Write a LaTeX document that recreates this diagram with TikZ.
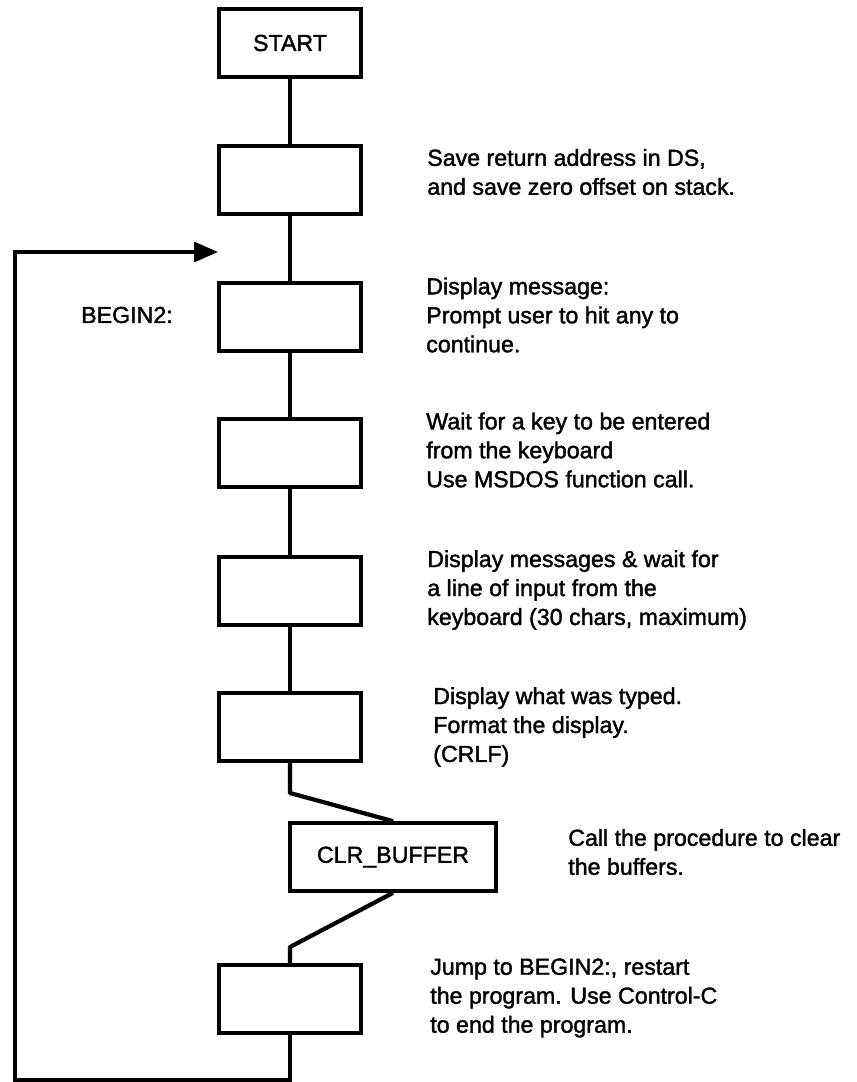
\documentclass[tikz,border=0pt]{standalone}
\usepackage{fontspec}
\setmainfont{Liberation Sans}[AutoFakeBold=1.6]
\usetikzlibrary{positioning,arrows.meta}

\begin{document}
\begin{tikzpicture}[x=0.25cm,y=-0.25cm,
  font=\fontsize{16.5}{20.6}\selectfont\bfseries,
  blk/.style={draw,line width=2.6pt,minimum width=3.55cm,minimum height=1.7cm,inner sep=0pt},
  note/.style={anchor=west,align=left,inner sep=0pt},
  wire/.style={line width=2.2pt},
  slant/.style={line width=3pt,line join=round}]
\useasboundingbox (0,0) rectangle (85.7,108.2);
% boxes
\node[blk] (start) at (29,4.3) {START};
\node[blk] (save)  at (29,18) {};
\node[blk] (begin) at (29,31.7) {};
\node[blk] (wait)  at (29,45.3) {};
\node[blk] (input) at (29,59.1) {};
\node[blk] (echo)  at (29,72.7) {};
\node[blk,minimum width=5.15cm] (clr) at (39.3,85.7) {CLR\_BUFFER};
\node[blk] (jump)  at (29,99.9) {};
\node (lbl) at (12.7,31.5) {BEGIN2:};
% comments
\node[note] (t2) at (42.7,17.2) {Save return address in DS,\\and save zero offset on stack.};
\node[note] (t3) at (42.6,31.5) {Display message:\\Prompt user to hit any to\\continue.};
\node[note] (t4) at (42.6,45.0) {Wait for a key to be entered\\from the keyboard\\Use MSDOS function call.};
\node[note] (t5) at (42.7,59.0) {Display messages \& wait for\\a line of input from the\\keyboard (30 chars, maximum)};
\node[note] (t6) at (43.3,72.7) {Display what was typed.\\Format the display.\\(CRLF)};
\node[note] (t7) at (56.8,85.2) {Call the procedure to clear\\the buffers.};
\node[note] (t8) at (43.0,99.8) {Jump to BEGIN2:, restart\\the program. Use Control-C\\to end the program.};
% flow
\draw[wire] (start) -- (save);
\draw[wire] (save) -- (begin);
\draw[wire] (begin) -- (wait);
\draw[wire] (wait) -- (input);
\draw[wire] (input) -- (echo);
\coordinate (k1) at (29,79.3);
\coordinate (k2) at (29,94.7);
\draw[slant] (echo.south) -- (k1) -- (clr.north);
\draw[slant] (clr.south) -- (k2) -- (jump.north);
% loop back
\coordinate (lb) at (1.5,108);
\coordinate (lt) at (1.5,25.2);
\coordinate (ret) at (21.8,25.2);
\draw[wire,-{Triangle[length=6mm,width=5mm]}] (jump.south) |- (lb) -- (lt) -- (ret);
\end{tikzpicture}
\end{document}
